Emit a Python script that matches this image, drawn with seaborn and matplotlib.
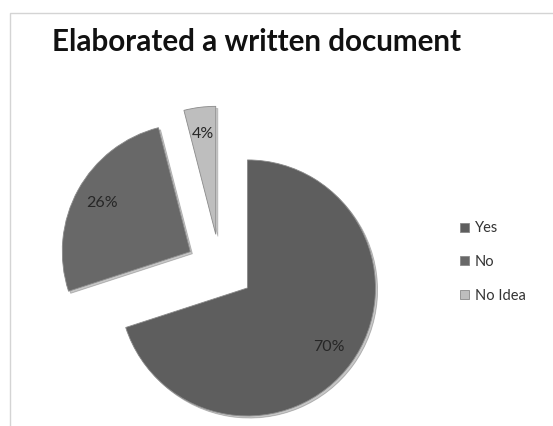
import matplotlib
matplotlib.use("Agg")
import matplotlib.pyplot as plt
from matplotlib.patches import Rectangle
import seaborn as sns

# data
categories = ["Yes", "No", "No Idea"]
shares = [70, 26, 4]
title = "Elaborated a written document"

sns.set_theme(style="white")
plt.rcParams['font.family'] = ['Lato', 'DejaVu Sans']

colors = ["#5e5e5e", "#686868", "#bebebe"]

W, H = 553, 426
fig = plt.figure(figsize=(W / 100, H / 100), dpi=100)
ax = fig.add_axes([0, 0, 1, 1])

# 1 data unit = pie radius = 128 px, pie centre at (220, 268) px from top-left
r_px = 128.0
cx, cy = 220.0, 268.0

wedges, texts, autotexts = ax.pie(
    shares,
    explode=[0.265] * len(shares),
    startangle=90,
    counterclock=False,
    colors=colors,
    autopct='%1.0f%%',
    pctdistance=0.79,
    wedgeprops=dict(edgecolor="#8a8a8a", linewidth=0.6),
    textprops=dict(color="#262626", fontsize=11.5),
    shadow=dict(ox=0.012, oy=-0.012, alpha=0.25),
)

ax.set_xlim(-cx / r_px, (W - cx) / r_px)
ax.set_ylim(-(H - cy) / r_px, cy / r_px)
ax.set_aspect('equal')
ax.axis('off')

fig.text(52 / W, 1 - 42 / H, title, fontsize=21.3, fontweight='bold',
         color='#111111', ha='left', va='center')

leg = fig.legend(wedges, categories, loc='center left',
                 bbox_to_anchor=(453 / W, 1 - 262 / H),
                 frameon=False, fontsize=10.5, handlelength=0.6,
                 handleheight=0.6, handletextpad=0.4, labelspacing=1.35,
                 borderpad=0)
for t in leg.get_texts():
    t.set_color('#333333')

# light chart-area frame (continues past right and bottom edges)
fig.add_artist(Rectangle((9.5 / W, -0.05), 1.2, (H - 12.5) / H + 0.05,
                         transform=fig.transFigure, fill=False,
                         edgecolor='#d4d4d4', linewidth=1))

fig.savefig("out.png", dpi=100)
